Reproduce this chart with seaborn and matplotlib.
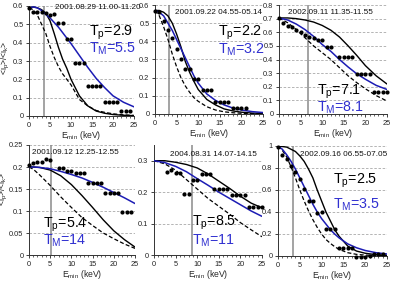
import matplotlib
matplotlib.use("Agg")
import matplotlib.pyplot as plt
import seaborn as sns
import pandas as pd
from matplotlib.ticker import MultipleLocator, FuncFormatter

# ---------------- data ----------------
titles = ["2001.08.29 11.00-11.20", "2001.09.22 04.55-05.14", "2002.09.11 11.35-11.55",
          "2001.09.12 12.25-12.55", "2004.08.31 14.07-14.15", "2002.09.16 06.55-07.05"]
tp_vals = ["2.9", "2.2", "7.1", "5.4", "8.5", "2.5"]
tm_vals = ["5.5", "3.2", "8.1", "14", "11", "3.5"]
vline_x = [3.5, 3.3, 6.6, 5.3, 8.7, 3.5]
ylims = [0.6, 0.6, 0.8, 0.25, 0.35, 1.0]
ysteps = [0.1, 0.1, 0.1, 0.05, 0.1, 0.2]

# panel 1
p1_cx = [0, 1, 2, 3, 4, 5, 6, 7, 8, 9, 10, 12, 14, 16, 18, 20, 22.5, 25]
p1_solid = [0.59, 0.595, 0.59, 0.58, 0.56, 0.52, 0.45, 0.375, 0.31, 0.26, 0.2, 0.11, 0.055, 0.027, 0.015, 0.008, 0.004, 0.002]
p1_dash = [0.59, 0.58, 0.55, 0.5, 0.45, 0.38, 0.32, 0.27, 0.23, 0.2, 0.17, 0.09, 0.055, 0.03, 0.02, 0.012, 0.006, 0.003]
p1_blue = [0.59, 0.595, 0.59, 0.575, 0.555, 0.535, 0.51, 0.485, 0.455, 0.425, 0.395, 0.33, 0.265, 0.205, 0.155, 0.11, 0.075, 0.05]
p1_dx = [0, 1, 2, 3, 4, 5, 6, 7, 8, 9, 10, 11, 12, 13, 14, 15, 16, 17, 18, 19, 20, 21, 22, 23, 24]
p1_dy = [0.587, 0.565, 0.565, 0.57, 0.56, 0.55, 0.555, 0.505, 0.505, 0.418, 0.418, 0.29, 0.29, 0.29,
         0.164, 0.164, 0.164, 0.164, 0.078, 0.078, 0.078, 0.078, 0.027, 0.027, 0.027]

# panel 2
p2_cx = [0, 1, 2, 3, 4, 5, 6, 7, 8, 9, 10, 12, 14, 16, 18, 20, 22.5, 25]
p2_solid = [0.57, 0.57, 0.56, 0.54, 0.5, 0.44, 0.37, 0.29, 0.23, 0.18, 0.135, 0.08, 0.05, 0.028, 0.017, 0.01, 0.005, 0.003]
p2_dash = [0.57, 0.54, 0.48, 0.41, 0.33, 0.26, 0.2, 0.155, 0.12, 0.09, 0.07, 0.04, 0.022, 0.012, 0.007, 0.004, 0.002, 0.001]
p2_blue = [0.57, 0.56, 0.54, 0.5, 0.46, 0.41, 0.36, 0.31, 0.26, 0.21, 0.17, 0.11, 0.075, 0.05, 0.033, 0.022, 0.013, 0.008]
p2_dx = [0, 1, 2, 3, 4, 5, 6, 7, 8, 9, 10, 11, 12, 13, 14, 15, 16, 17, 18, 19, 20, 21]
p2_dy = [0.567, 0.56, 0.51, 0.46, 0.42, 0.36, 0.30, 0.245, 0.245, 0.19, 0.19, 0.13, 0.13, 0.13,
         0.068, 0.068, 0.068, 0.068, 0.033, 0.033, 0.033, 0.033]

# panel 3
p3_cx = [0, 2, 4, 6, 8, 10, 12, 14, 16, 18, 20, 22.5, 25]
p3_solid = [0.705, 0.705, 0.7, 0.69, 0.675, 0.65, 0.615, 0.565, 0.5, 0.43, 0.355, 0.28, 0.22]
p3_dash = [0.705, 0.67, 0.62, 0.56, 0.5, 0.45, 0.4, 0.34, 0.28, 0.23, 0.185, 0.135, 0.095]
p3_blue = [0.705, 0.69, 0.66, 0.62, 0.57, 0.51, 0.46, 0.4, 0.345, 0.295, 0.255, 0.21, 0.18]
p3_dx = [0, 1, 2, 3, 4, 5, 6, 7, 8, 9, 10, 11, 12, 14, 15, 16, 17, 18, 19, 20, 21, 22, 23, 24, 25]
p3_dy = [0.707, 0.67, 0.645, 0.635, 0.615, 0.6, 0.58, 0.565, 0.555, 0.545, 0.545, 0.49, 0.49,
         0.415, 0.415, 0.415, 0.415, 0.29, 0.29, 0.29, 0.29, 0.16, 0.16, 0.16, 0.16]

# panel 4
p4_cx = [0, 1, 2.5, 5, 7.5, 10, 12.5, 15, 17.5, 20, 22.5, 25]
p4_solid = [0.2, 0.2, 0.199, 0.193, 0.18, 0.16, 0.135, 0.108, 0.08, 0.055, 0.035, 0.018]
p4_dash = [0.2, 0.195, 0.182, 0.158, 0.132, 0.108, 0.085, 0.067, 0.05, 0.037, 0.025, 0.015]
p4_blue = [0.2, 0.2, 0.199, 0.196, 0.19, 0.183, 0.175, 0.165, 0.154, 0.142, 0.13, 0.117]
p4_dx = [0, 1, 2, 3, 4, 5, 7, 8, 9, 10, 11, 12, 13, 14, 15, 16, 17, 18, 19, 20, 21, 22, 23, 24]
p4_dy = [0.204, 0.208, 0.212, 0.212, 0.219, 0.215, 0.198, 0.198, 0.192, 0.192, 0.187, 0.187, 0.187,
         0.163, 0.163, 0.163, 0.163, 0.141, 0.141, 0.141, 0.141, 0.098, 0.098, 0.098]

# panel 5
p5_cx = [0, 2.5, 5, 7.5, 10, 12.5, 15, 17.5, 20, 22.5, 25]
p5_solid = [0.3, 0.3, 0.295, 0.288, 0.277, 0.258, 0.235, 0.212, 0.187, 0.165, 0.15]
p5_dash = [0.3, 0.29, 0.27, 0.24, 0.21, 0.18, 0.155, 0.13, 0.103, 0.08, 0.058]
p5_blue = [0.3, 0.294, 0.282, 0.265, 0.243, 0.222, 0.2, 0.18, 0.16, 0.14, 0.123]
p5_dx = [3, 4, 5, 6, 7, 8, 9, 10, 11, 12, 13, 14, 15, 16, 17, 18, 19, 20, 21, 22, 23, 24, 25]
p5_dy = [0.263, 0.272, 0.26, 0.26, 0.195, 0.195, 0.24, 0.24, 0.257, 0.257, 0.257,
         0.21, 0.21, 0.21, 0.21, 0.19, 0.19, 0.19, 0.19, 0.153, 0.153, 0.153, 0.153]

# panel 6
p6_cx = [0, 1, 2, 3, 4, 5, 6, 7, 8, 9, 10, 11, 12, 13, 14, 16, 18, 20, 22.5, 25]
p6_solid = [1, 0.995, 0.99, 0.97, 0.95, 0.91, 0.86, 0.79, 0.71, 0.6, 0.5, 0.4, 0.32, 0.24, 0.18, 0.09, 0.045, 0.025, 0.012, 0.006]
p6_dash = [1, 0.96, 0.9, 0.81, 0.71, 0.6, 0.5, 0.41, 0.33, 0.26, 0.2, 0.15, 0.115, 0.085, 0.06, 0.03, 0.015, 0.008, 0.004, 0.002]
p6_blue = [1, 0.97, 0.92, 0.86, 0.79, 0.71, 0.63, 0.55, 0.47, 0.4, 0.34, 0.29, 0.24, 0.2, 0.165, 0.11, 0.075, 0.05, 0.03, 0.018]
p6_dx = [0, 1, 2, 3, 4, 5, 6, 7, 8, 9, 10, 11, 12, 13, 14, 15, 16, 17, 18, 19, 20, 21, 22, 23, 24]
p6_dy = [0.994, 0.92, 0.88, 0.82, 0.76, 0.70, 0.61, 0.5, 0.5, 0.39, 0.4, 0.25, 0.25, 0.25,
         0.075, 0.075, 0.075, 0.075, -0.005, -0.005, -0.005, 0.0, 0.015, 0.015, 0.015]

curves_x = [p1_cx, p2_cx, p3_cx, p4_cx, p5_cx, p6_cx]
solids = [p1_solid, p2_solid, p3_solid, p4_solid, p5_solid, p6_solid]
dashes = [p1_dash, p2_dash, p3_dash, p4_dash, p5_dash, p6_dash]
blues = [p1_blue, p2_blue, p3_blue, p4_blue, p5_blue, p6_blue]
dots_x = [p1_dx, p2_dx, p3_dx, p4_dx, p5_dx, p6_dx]
dots_y = [p1_dy, p2_dy, p3_dy, p4_dy, p5_dy, p6_dy]

# ---------------- layout / style ----------------
sns.set_style("ticks")
plt.rcParams["font.family"] = ["Liberation Sans", "DejaVu Sans"]
plt.rcParams["mathtext.fontset"] = "custom"
plt.rcParams["mathtext.rm"] = "Liberation Sans"
plt.rcParams["mathtext.it"] = "Liberation Sans:italic"

W, H = 393, 284
fig = plt.figure(figsize=(W / 100, H / 100), dpi=100)

# (left, top, right, bottom) in pixels
boxes = [(29, 6, 134, 116), (155, 5, 263, 114), (279, 5, 387, 114),
         (29, 145, 135, 255), (154, 145, 262, 255), (278, 146, 387, 256)]
date_pos = [(0.25, 0.985), (0.185, 0.93), (0.083, 0.93), (0.03, 0.936), (0.148, 0.918), (0.2, 0.927)]
tp_pos = [(0.57, 0.76), (0.583, 0.743), (0.352, 0.2), (0.13, 0.275), (0.35, 0.295), (0.505, 0.68)]
tm_pos = [(0.57, 0.61), (0.583, 0.59), (0.352, 0.06), (0.13, 0.13), (0.35, 0.125), (0.505, 0.47)]
ylabel_pos = {0: (-0.165, 0.53), 3: (-0.175, 0.6)}

blue = "#1c1cb4"
tm_blue = "#3030d0"

def fmt(v, pos):
    s = ("%.2f" % v).rstrip("0").rstrip(".")
    return "0" if s in ("0", "-0") else s

for i in range(6):
    l, t, r, b = boxes[i]
    ax = fig.add_axes([l / W, 1 - b / H, (r - l) / W, (b - t) / H])

    df_c = pd.DataFrame({"E": curves_x[i], "solid": solids[i], "dash": dashes[i], "blue": blues[i]})
    df_d = pd.DataFrame({"E": dots_x[i], "r": dots_y[i]})

    ax.axvline(vline_x[i], color="#8a8a8a", lw=1.1, zorder=1)
    sns.lineplot(data=df_c, x="E", y="dash", ax=ax, color="black", lw=0.9,
                 linestyle=(0, (3.2, 1.8)), zorder=3)
    sns.lineplot(data=df_c, x="E", y="solid", ax=ax, color="black", lw=1.0, zorder=3)
    sns.lineplot(data=df_c, x="E", y="blue", ax=ax, color=blue, lw=1.1, zorder=4)
    sns.scatterplot(data=df_d, x="E", y="r", ax=ax, color="black", s=9, linewidth=0,
                    zorder=5, clip_on=False)

    ax.set_xlim(0, 25)
    ax.set_ylim(0, ylims[i])
    ax.xaxis.set_major_locator(MultipleLocator(5))
    ax.xaxis.set_minor_locator(MultipleLocator(1))
    ax.yaxis.set_major_locator(MultipleLocator(ysteps[i]))
    ax.yaxis.set_major_formatter(FuncFormatter(fmt))
    ax.tick_params(axis="both", which="major", labelsize=5.3, length=2.5, width=0.6, pad=1.5, colors="#222222")
    ax.tick_params(axis="x", which="minor", length=1.6, width=0.5)
    for yv in ax.get_yticks():
        if 0 < yv <= ylims[i] + 1e-9:
            ax.axhline(yv, color="#a8a8a8", lw=0.6, linestyle=(0, (3, 2)), zorder=0)
    sns.despine(ax=ax, top=True, right=True)
    for sp in ["left", "bottom"]:
        ax.spines[sp].set_linewidth(0.7)
        ax.spines[sp].set_color("#333333")

    ax.set_xlabel("E$_\\mathregular{min}$ (keV)", fontsize=6.2, labelpad=0.5)
    if i in ylabel_pos:
        ax.set_ylabel("<i$_\\mathregular{p}$>/<i$_\\mathregular{k}$>", fontsize=6.2)
        ax.yaxis.set_label_coords(*ylabel_pos[i])
    else:
        ax.set_ylabel("")

    ax.text(date_pos[i][0], date_pos[i][1], titles[i], transform=ax.transAxes,
            fontsize=5.9, va="center", ha="left", color="#111111", zorder=6, clip_on=False)
    ax.text(tp_pos[i][0], tp_pos[i][1], "T$_\\mathregular{p}$=" + tp_vals[i], transform=ax.transAxes,
            fontsize=10.3, va="center", ha="left", color="black", zorder=6)
    ax.text(tm_pos[i][0], tm_pos[i][1], "T$_\\mathregular{M}$=" + tm_vals[i], transform=ax.transAxes,
            fontsize=10.3, va="center", ha="left", color=tm_blue, zorder=6)

fig.savefig("out.png", dpi=100)
